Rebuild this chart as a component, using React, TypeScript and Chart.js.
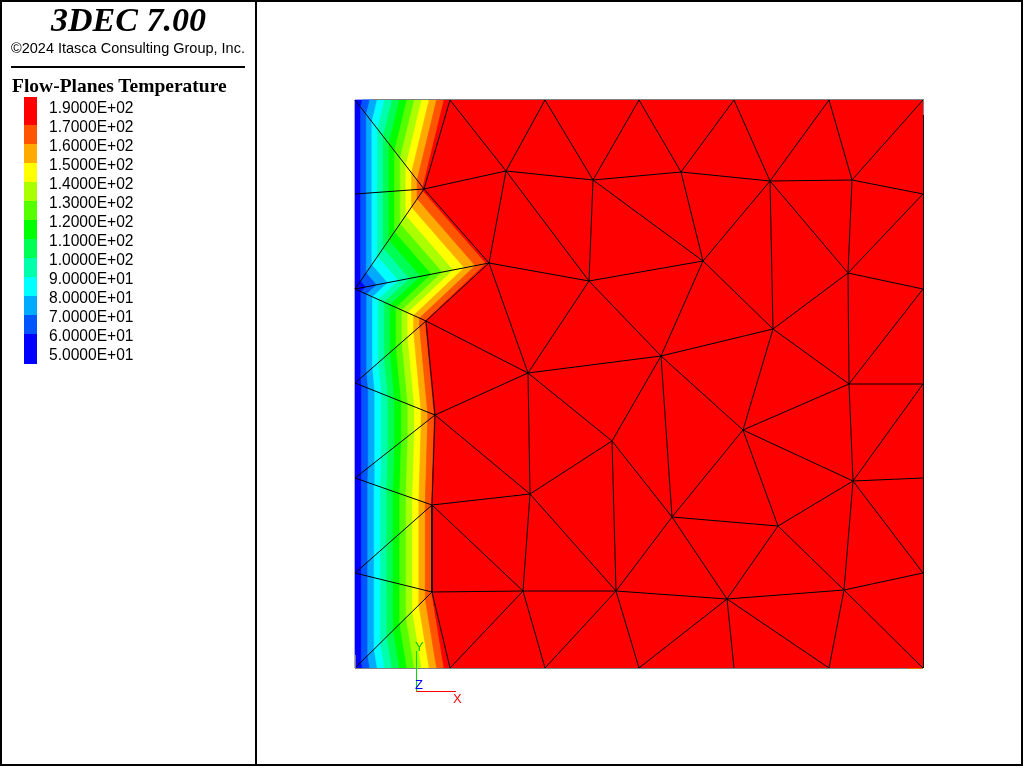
import React, { useEffect, useRef } from "react";
import { Chart, registerables } from "chart.js";

Chart.register(...registerables);

// Model coordinates of the mesh nodes
const nodeX = [0,95,190,284,379,474,568,568,568,568,568,568,568,474,379,284,190,95,0,0,0,0,0,0,
  69,134,71,80,77,77,151,238,326,415,497,234,348,493,418,306,173,494,257,388,498,175,317,423,168,261,372,489];
const nodeY = [568,568,568,568,568,568,568,474,379,284,190,95,0,0,0,0,0,0,0,95,190,285,379,474,
  479,405,347,253,163,76,497,488,496,487,488,387,407,395,339,312,295,284,227,238,187,174,151,142,77,77,69,78];
// Node temperatures
const nodeT = [50,178,190,190,190,190,190,190,190,190,190,190,190,190,190,190,190,178,50,50,50,50,50,50,
  172,172.5,171,171,170.5,170.5,188,190,190,190,190,190,190,190,190,190,188,190,190,190,190,188,190,190,188,190,190,190];
// Mesh triangles as node indices
const triangles = [
  [0,1,24],[0,24,23],[23,24,22],[22,24,25],[22,25,26],[22,26,21],[21,26,27],[21,27,20],[20,27,28],[20,28,19],[19,28,29],[19,29,18],[18,29,17],
  [1,30,24],[1,2,30],[2,31,30],[2,3,31],[3,32,31],[3,4,32],[4,33,32],[4,5,33],[5,34,33],[5,6,34],[6,7,34],
  [24,30,25],[30,35,25],[30,31,35],[31,36,35],[31,32,36],[32,33,36],[33,38,36],[33,37,38],[33,34,37],[34,7,37],[7,8,37],[37,8,41],[37,41,38],[8,9,41],
  [25,35,40],[25,40,26],[26,40,27],[35,39,40],[35,36,39],[36,38,39],[38,43,39],[38,41,43],[41,44,43],[41,9,44],[9,10,44],
  [27,40,45],[40,42,45],[40,39,42],[39,46,42],[39,43,46],[43,47,46],[43,44,47],[44,51,47],[44,11,51],[44,10,11],
  [27,45,28],[28,45,48],[45,49,48],[45,42,49],[42,46,49],[46,50,49],[46,47,50],[47,51,50],[51,11,12],[51,12,13],[50,51,13],[50,13,14],[50,14,15],[49,50,15],[49,15,16],[48,49,16],[48,16,17],[28,48,29],[29,48,17],
];
const lastBoundaryNode = 23;

// Contour bands, coldest first
const bandFloors = [0,60,70,80,90,100,110,120,130,140,150,160,170];
const bandColors = ["#0000ff","#0055ff","#00aaff","#00ffff","#00ffaa","#00ff55","#00ff00","#55ff00","#aaff00","#ffff00","#ffaa00","#ff5500","#ff0000"];

// Legend, top to bottom
const legendLabels = ["1.9000E+02","1.7000E+02","1.6000E+02","1.5000E+02","1.4000E+02","1.3000E+02","1.2000E+02","1.1000E+02","1.0000E+02","9.0000E+01","8.0000E+01","7.0000E+01","6.0000E+01","5.0000E+01"];
const legendStops = [97,125,144,163,182,201,220,239,258,277,296,315,334,364];

// Outline pieces of the model [x1,y1,x2,y2,colour]
const outline: [number,number,number,number,string][] = [
  [17,568.5,568.5,568.5,"#808080"],
  [568.5,568.5,568.5,553,"#808080"],
  [568.5,553,568.5,0,"#000000"],
  [0,-0.5,553,-0.5,"#808080"],
  [0.5,13,0.5,-0.5,"#808080"],
];
// Axis triad [x1,y1,x2,y2,colour]
const triad: [number,number,number,number,string][] = [
  [61.5,17,61.5,-23.5,"#00e000"],
  [61.5,-23.5,101,-23.5,"#ff0000"],
];

type P = { x: number; y: number; t: number };

function clipAbove(poly: P[], level: number): P[] {
  const out: P[] = [];
  for (let i = 0; i < poly.length; i++) {
    const a = poly[i];
    const b = poly[(i + 1) % poly.length];
    if (a.t >= level) out.push(a);
    if ((a.t >= level) !== (b.t >= level)) {
      const k = (level - a.t) / (b.t - a.t);
      out.push({ x: a.x + k * (b.x - a.x), y: a.y + k * (b.y - a.y), t: level });
    }
  }
  return out;
}

function buildDatasets(): any[] {
  const sets: any[] = [];
  bandFloors.forEach((floor, b) => {
    triangles.forEach((tri) => {
      const poly = clipAbove(tri.map((n) => ({ x: nodeX[n], y: nodeY[n], t: nodeT[n] })), floor);
      if (poly.length < 3) return;
      sets.push({
        data: [...poly, poly[0]].map((p) => ({ x: p.x, y: p.y })),
        showLine: true, fill: "shape", backgroundColor: bandColors[b], borderColor: bandColors[b],
        borderWidth: 0.7, pointRadius: 0, tension: 0,
      });
    });
  });
  const seen = new Set<string>();
  const mesh: { x: number; y: number }[] = [];
  triangles.forEach((tri) => {
    tri.forEach((n, i) => {
      const m = tri[(i + 1) % 3];
      const key = Math.min(n, m) + "-" + Math.max(n, m);
      if (seen.has(key) || (n <= lastBoundaryNode && m <= lastBoundaryNode)) return;
      seen.add(key);
      mesh.push({ x: nodeX[n], y: nodeY[n] }, { x: nodeX[m], y: nodeY[m] }, { x: NaN, y: NaN });
    });
  });
  sets.push({ data: mesh, showLine: true, borderColor: "#000000", borderWidth: 1, pointRadius: 0, tension: 0, spanGaps: false });
  [...outline, ...triad].forEach(([x1, y1, x2, y2, c]) => {
    sets.push({ data: [{ x: x1, y: y1 }, { x: x2, y: y2 }], showLine: true, borderColor: c, borderWidth: 1, pointRadius: 0, tension: 0 });
  });
  return sets.reverse();
}

const sans = '"Liberation Sans", Arial, sans-serif';
const serif = '"Liberation Serif", "Times New Roman", serif';
const abs = (o: React.CSSProperties): React.CSSProperties => ({ position: "absolute", whiteSpace: "nowrap", ...o });

export default function App() {
  const ref = useRef<HTMLCanvasElement>(null);
  useEffect(() => {
    const chart = new Chart(ref.current as HTMLCanvasElement, {
      type: "scatter",
      data: { datasets: buildDatasets() },
      options: {
        animation: false, responsive: false, devicePixelRatio: 1,
        layout: { padding: 0 },
        plugins: { legend: { display: false }, tooltip: { enabled: false } },
        scales: {
          x: { type: "linear", display: false, min: -355, max: 669 },
          y: { type: "linear", display: false, min: -100, max: 668 },
        },
      },
    } as any);
    return () => chart.destroy();
  }, []);
  return (
    <div style={abs({ left: 0, top: 0, width: 1024, height: 768, overflow: "hidden", background: "#fff" })}>
      <canvas ref={ref} width={1024} height={768} style={abs({ left: 0, top: 0, width: 1024, height: 768 })} />
      <div style={abs({ left: 0, top: 0, width: 1023, height: 2, background: "#000" })} />
      <div style={abs({ left: 0, top: 764, width: 1023, height: 2, background: "#000" })} />
      <div style={abs({ left: 0, top: 0, width: 2, height: 766, background: "#000" })} />
      <div style={abs({ left: 1021, top: 0, width: 2, height: 766, background: "#000" })} />
      <div style={abs({ left: 255, top: 0, width: 2, height: 766, background: "#000" })} />
      <div style={abs({ left: 11, top: 66, width: 234, height: 2, background: "#000" })} />
      <div style={abs({ left: 0, width: 257, textAlign: "center", top: 1, lineHeight: "40px", font: `italic bold 34px ${serif}`, color: "#000" })}>3DEC 7.00</div>
      <div style={abs({ left: 11, top: 40, lineHeight: "18px", font: `14.5px ${sans}`, color: "#000" })}>©2024 Itasca Consulting Group, Inc.</div>
      <div style={abs({ left: 12, top: 75, lineHeight: "22px", font: `bold 19.5px ${serif}`, color: "#000" })}>Flow-Planes Temperature</div>
      {bandColors.slice().reverse().map((c, i) => (
        <div key={c} style={abs({ left: 24, top: legendStops[i], width: 13, height: legendStops[i + 1] - legendStops[i], background: c })} />
      ))}
      {legendLabels.map((t, i) => (
        <div key={t} style={abs({ left: 49, top: 99 + 19 * i, lineHeight: "18px", font: `15.6px ${sans}`, color: "#000" })}>{t}</div>
      ))}
      <div style={abs({ left: 415, top: 639, lineHeight: "14px", font: `13px ${sans}`, color: "#00c800" })}>Y</div>
      <div style={abs({ left: 415, top: 677, lineHeight: "14px", font: `13px ${sans}`, color: "#0000ff" })}>Z</div>
      <div style={abs({ left: 453, top: 691, lineHeight: "14px", font: `13px ${sans}`, color: "#ff0000" })}>X</div>
    </div>
  );
}
